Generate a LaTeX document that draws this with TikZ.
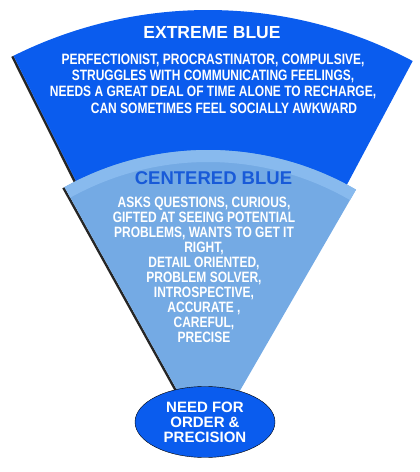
\documentclass[tikz,border=0pt]{standalone}
\usepackage{fontspec}
\setmainfont{Liberation Sans}
\newfontfamily\narrowsans[FakeStretch=0.8]{Liberation Sans}
\usetikzlibrary{positioning,shapes.geometric}

\definecolor{extremeblue}{RGB}{10,92,238}
\definecolor{centeredblue}{RGB}{116,170,228}
\definecolor{centeredband}{RGB}{136,186,238}
\definecolor{titleblue}{RGB}{24,90,216}

\begin{document}
\begin{tikzpicture}[x=1pt, y=1pt,
  shade/.style={fill=black, opacity=0.85},
  title/.style={font=\bfseries\fontsize{17.5}{20}\selectfont, inner sep=0pt},
  traits/.style={font=\narrowsans\bfseries\fontsize{15}{16.3}\selectfont,
    text=white, align=center, inner sep=0pt},
  need/.style={draw=black, ellipse, fill=extremeblue, text=white,
    minimum width=140pt, minimum height=71pt, inner sep=0pt, align=center,
    font=\bfseries\fontsize{15}{15}\selectfont}
]
\useasboundingbox (0,0) rectangle (420,472);
\coordinate (apex) at (208,26);

% extreme blue sector
\fill[shade] (apex) -- ++(116.5:436) -- ++(206.5:2.5) -- ++(296.5:436) -- cycle;
\fill[extremeblue] (apex) -- ++(116.5:436)
  arc[start angle=116.5, end angle=62, radius=436] -- cycle;

% centered blue sector
\fill[shade] (apex) -- ++(119:296) -- ++(209:2.5) -- ++(299:296) -- cycle;
\fill[centeredblue] (apex) -- ++(119:296)
  arc[start angle=119, end angle=60, radius=296] -- cycle;
\fill[centeredband] (apex) ++(119:296)
  arc[start angle=119, end angle=60, radius=296] -- ++(240:12)
  arc[start angle=60, end angle=119, radius=284] -- cycle;

\node[title, text=white] (extreme) at (212,439) {EXTREME BLUE};
\node[traits] (extremetraits) at (213,388.6) {PERFECTIONIST, PROCRASTINATOR, COMPULSIVE,\\
  STRUGGLES WITH COMMUNICATING FEELINGS,\\
  NEEDS A GREAT DEAL OF TIME ALONE TO RECHARGE,\\
  \hspace*{22pt}CAN SOMETIMES FEEL SOCIALLY AWKWARD};

\node[title, text=titleblue, font=\bfseries\fontsize{18.5}{20}\selectfont]
  (centered) at (213.5,293.7) {CENTERED BLUE};
\node[traits, font=\narrowsans\bfseries\fontsize{15}{15}\selectfont]
  (centeredtraits) at (204,202.5) {ASKS QUESTIONS, CURIOUS,\\
  GIFTED AT SEEING POTENTIAL\\
  PROBLEMS, WANTS TO GET IT\\
  RIGHT,\\
  DETAIL ORIENTED,\\
  PROBLEM SOLVER,\\
  INTROSPECTIVE,\\
  ACCURATE ,\\
  CAREFUL,\\
  PRECISE};

\node[need] (order) at (205,50) {NEED FOR\\ORDER \&\\PRECISION};
\end{tikzpicture}
\end{document}
